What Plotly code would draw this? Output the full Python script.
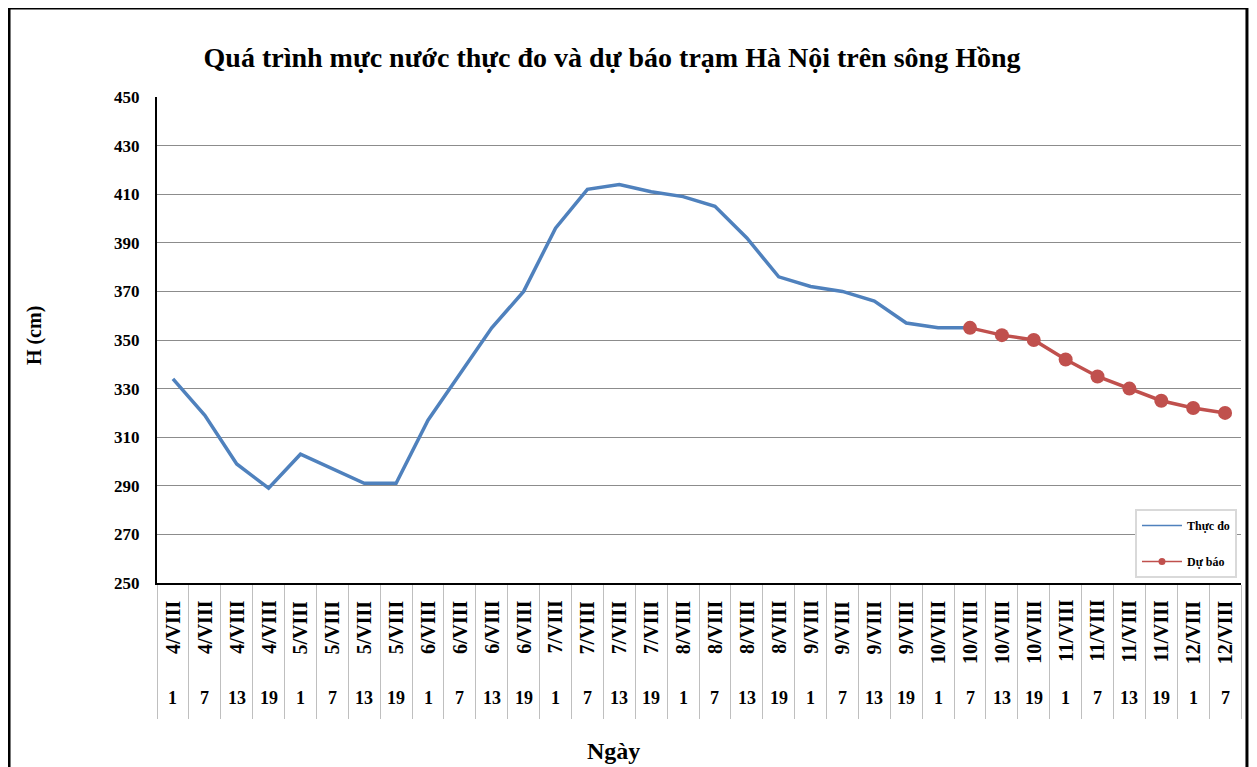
import plotly.graph_objects as go

# ---- data ----
dates = (["4/VIII"] * 4 + ["5/VIII"] * 4 + ["6/VIII"] * 4 + ["7/VIII"] * 4 +
         ["8/VIII"] * 4 + ["9/VIII"] * 4 + ["10/VIII"] * 4 + ["11/VIII"] * 4 +
         ["12/VIII"] * 2)
hours = ["1", "7", "13", "19"] * 8 + ["1", "7"]

observed = [334, 319, 299, 289, 303, 297, 291, 291, 317, 336, 355, 370, 396,
            412, 414, 411, 409, 405, 392, 376, 372, 370, 366, 357, 355, 355]
forecast = [355, 352, 350, 342, 335, 330, 325, 322, 320]
forecast_start = 25  # index of 10/VIII 7

title = "Quá trình mực nước thực đo và dự báo trạm Hà Nội trên sông Hồng"
ytitle = "H (cm)"
xtitle = "Ngày"
series_names = ["Thực đo", "Dự báo"]
y_ticks = list(range(250, 451, 20))

FONT = "Liberation Serif"
BLUE = "#4F81BD"
RED = "#C0504D"
n = len(dates)
idx = list(range(n))

fig = go.Figure()
fig.add_trace(go.Scatter(
    x=idx[:len(observed)], y=observed, mode="lines", name=series_names[0],
    line=dict(color=BLUE, width=3.5), showlegend=False))
fig.add_trace(go.Scatter(
    x=idx[forecast_start:forecast_start + len(forecast)], y=forecast,
    mode="lines+markers", name=series_names[1],
    line=dict(color=RED, width=3.5),
    marker=dict(color=RED, size=14), showlegend=False))
# legend entries (thin, as in the original legend)
fig.add_trace(go.Scatter(x=[None], y=[None], mode="lines", name=series_names[0],
                         line=dict(color=BLUE, width=1.5), legendgroup="a"))
fig.add_trace(go.Scatter(x=[None], y=[None], mode="lines+markers",
                         name=series_names[1], line=dict(color=RED, width=1.5),
                         marker=dict(color=RED, size=7), legendgroup="b"))

annotations = []
for i in idx:
    annotations.append(dict(x=i, y=-0.031, xref="x", yref="paper",
                            text="<b>" + dates[i] + "</b>", textangle=-90,
                            showarrow=False, xanchor="center", yanchor="top",
                            font=dict(family=FONT, size=20, color="black")))
    annotations.append(dict(x=i, y=-0.237, xref="x", yref="paper",
                            text="<b>" + hours[i] + "</b>", showarrow=False,
                            xanchor="center", yanchor="middle",
                            font=dict(family=FONT, size=18, color="black")))
annotations.append(dict(x=0.4215, y=-0.345, xref="paper", yref="paper",
                        text="<b>" + xtitle + "</b>", showarrow=False,
                        xanchor="center", yanchor="middle",
                        font=dict(family=FONT, size=24, color="black")))
annotations.append(dict(x=-0.1135, y=0.51, xref="paper", yref="paper",
                        text="<b>" + ytitle + "</b>", textangle=-90,
                        showarrow=False, xanchor="center", yanchor="middle",
                        font=dict(family=FONT, size=20, color="black")))

fig.update_layout(
    width=1249, height=759,
    paper_bgcolor="white", plot_bgcolor="white",
    margin=dict(l=149, r=16, t=89, b=184),
    title=dict(text="<b>" + title + "</b>", x=0.4836, xanchor="center",
               y=0.9354, yanchor="middle",
               font=dict(family=FONT, size=28, color="black")),
    font=dict(family=FONT, color="black"),
    xaxis=dict(range=[-0.5, n - 0.5], tickvals=[i - 0.5 for i in range(n + 1)],
               ticktext=[""] * (n + 1), ticks="outside", ticklen=134,
               tickcolor="#BFBFBF", tickwidth=1, showgrid=False,
               showline=True, linecolor="black", linewidth=2, zeroline=False),
    yaxis=dict(range=[250, 450], tickvals=y_ticks, showgrid=True,
               gridcolor="#8C8C8C", gridwidth=1, showline=True,
               linecolor="black", linewidth=2, zeroline=False, ticks="",
               tickfont=dict(family=FONT, size=17, color="black",
                             weight="bold"),
               ticklabelstandoff=12),
    legend=dict(x=0.9963, y=0.0103, xanchor="right", yanchor="bottom",
                bgcolor="white", bordercolor="#D9D9D9", borderwidth=2,
                font=dict(family=FONT, size=12, color="black", weight="bold"),
                traceorder="grouped", tracegroupgap=17, itemwidth=40,
                entrywidth=112, entrywidthmode="pixels"),
    annotations=annotations,
    shapes=[dict(type="rect", xref="paper", yref="paper",
                 x0=-0.1365, x1=1.0055, y0=-0.39, y1=1.183,
                 line=dict(color="black", width=3))],
)

fig.write_html("out.html")
